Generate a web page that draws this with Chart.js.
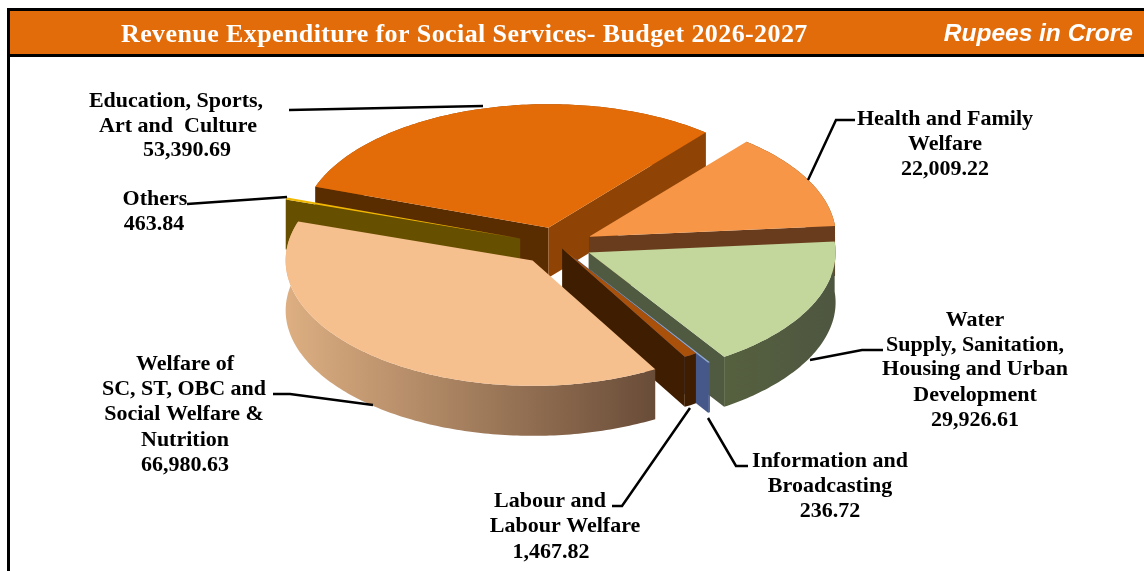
<!DOCTYPE html>
<html>
<head>
<meta charset="utf-8">
<style>
  html, body { margin: 0; padding: 0; background: #fff; overflow: hidden; }
  canvas { display: block; }
</style>
<script src="https://cdn.jsdelivr.net/npm/chart.js@4"></script>
</head>
<body>
<canvas id="pie3d" width="1144" height="571"></canvas>
<script>
const titleText = 'Revenue Expenditure for Social Services- Budget 2026-2027';
const unitText = 'Rupees in Crore';

// clockwise from the start angle
const categories = [
    'Education, Sports, Art and Culture',
    'Health and Family Welfare',
    'Water Supply, Sanitation, Housing and Urban Development',
    'Information and Broadcasting',
    'Labour and Labour Welfare',
    'Welfare of SC, ST, OBC and Social Welfare & Nutrition',
    'Others'
];
const values = [53390.69, 22009.22, 29926.61, 236.72, 1467.82, 66980.63, 463.84];

const topColors = ['#E36C09', '#F79646', '#C3D69B', '#8FA8DA', '#A9510A', '#F6BF8E', '#F0B800'];
const startWallColors = ['#5A2D00', '#6A3C1E', '#4F5A40', '#46588A', '#3F1D00', '#8A6A4A', '#665000'];
const endWallColors = ['#8F4406', '#6A3C1E', '#4F5A40', '#46588A', '#3F1D00', '#8A6A4A', '#665000'];
const rimLeftColors = ['#8F4406', '#6A3C1E', '#56613F', '#46588A', '#3F1D00', '#DDAF82', '#665000'];
const rimRightColors = ['#8F4406', '#6A3C1E', '#4E5640', '#46588A', '#3F1D00', '#694C38', '#665000'];

// how far each slice is pulled out, px
const explode = [36, 35, 34, 30, 8, 40, 40];

const SQUASH = 0.5;
const DEPTH = 50;
const NEAR_DROP = 1.5; // near edge of the pie sits a little lower, like the perspective in a 3D chart

// label text, one entry per line: [text, centre x, centre y]
const labelLines = [
    ['Education, Sports,', 176, 100], ['Art and  Culture', 178, 125], ['53,390.69', 187, 149],
    ['Others', 155, 198], ['463.84', 154, 223],
    ['Health and Family', 945, 118], ['Welfare', 945, 143], ['22,009.22', 945, 168],
    ['Water', 975, 319], ['Supply, Sanitation,', 975, 344], ['Housing and Urban', 975, 368],
    ['Development', 975, 394], ['29,926.61', 975, 419],
    ['Information and', 830, 460], ['Broadcasting', 830, 485], ['236.72', 830, 510],
    ['Labour and', 550, 500], ['Labour Welfare', 565, 525], ['1,467.82', 551, 551],
    ['Welfare of', 185, 363], ['SC, ST, OBC and', 184, 388], ['Social Welfare &', 184, 413],
    ['Nutrition', 185, 439], ['66,980.63', 185, 464]
];

const leaderLines = [
    [[289, 110], [483, 106]],
    [[855, 120], [836, 120], [808, 180]],
    [[883, 350], [862, 350], [810, 360]],
    [[748, 466], [736, 466], [708, 418]],
    [[612, 506], [622, 506], [690, 408]],
    [[273, 394], [290, 394], [373, 405]],
    [[187, 204], [287, 197]]
];

function slicePoint(el, angle, radius) {
    const mid = (el.startAngle + el.endAngle) / 2;
    const d = el.options.offset / 4;
    const along = d * Math.sin(mid) + radius * Math.sin(angle);
    const near = Math.max(along, 0) / el.outerRadius;
    return {
        x: el.x + d * Math.cos(mid) + radius * Math.cos(angle),
        y: el.y + SQUASH * along + NEAR_DROP * near * near
    };
}

function arcPoints(el) {
    const pts = [];
    const steps = Math.max(2, Math.ceil((el.endAngle - el.startAngle) * 60));
    for (let i = 0; i <= steps; i++) {
        const a = el.startAngle + (el.endAngle - el.startAngle) * i / steps;
        pts.push(slicePoint(el, a, el.outerRadius));
    }
    return pts;
}

function fillPoly(ctx, pts, fill) {
    ctx.beginPath();
    pts.forEach((p, i) => i ? ctx.lineTo(p.x, p.y) : ctx.moveTo(p.x, p.y));
    ctx.closePath();
    ctx.fillStyle = fill;
    ctx.fill();
}

function drawWall(ctx, el, angle, color) {
    const apex = slicePoint(el, 0, 0);
    const rim = slicePoint(el, angle, el.outerRadius);
    fillPoly(ctx, [apex, rim, { x: rim.x, y: rim.y + DEPTH }, { x: apex.x, y: apex.y + DEPTH }], color);
}

function drawSlice(ctx, el, i) {
    const pts = arcPoints(el);
    const apex = slicePoint(el, 0, 0);

    // outer rim
    const xs = pts.map(p => p.x);
    const grad = ctx.createLinearGradient(Math.min(...xs), 0, Math.max(...xs), 0);
    grad.addColorStop(0, rimLeftColors[i]);
    grad.addColorStop(1, rimRightColors[i]);
    const lower = pts.slice().reverse().map(p => ({ x: p.x, y: p.y + DEPTH }));
    fillPoly(ctx, pts.concat(lower), grad);

    // cut faces, only the ones turned to the viewer
    if (Math.cos(el.startAngle) < 0) drawWall(ctx, el, el.startAngle, startWallColors[i]);
    if (Math.cos(el.endAngle) > 0) drawWall(ctx, el, el.endAngle, endWallColors[i]);

    // top face
    fillPoly(ctx, [apex].concat(pts), el.options.backgroundColor);
}

const pie3dPlugin = {
    id: 'pie3d',
    beforeDatasetDraw(chart) {
        const ctx = chart.ctx;
        const arcs = chart.getDatasetMeta(0).data;
        ctx.save();
        // back to front
        [0, 1, 6, 2, 3, 4, 5].forEach(i => drawSlice(ctx, arcs[i], i));
        ctx.restore();
        return false;
    },
    afterDraw(chart) {
        const ctx = chart.ctx;
        ctx.save();

        // header band and frame
        ctx.fillStyle = '#E36C0A';
        ctx.fillRect(10, 11, 1134, 43);
        ctx.fillStyle = '#000';
        ctx.fillRect(7, 8, 1137, 3);
        ctx.fillRect(7, 54, 1137, 3);
        ctx.fillRect(7, 8, 3, 563);

        ctx.fillStyle = '#fff';
        ctx.textBaseline = 'alphabetic';
        ctx.textAlign = 'left';
        ctx.font = 'bold 26px "Liberation Serif"';
        ctx.letterSpacing = '0.4px';
        ctx.fillText(titleText, 121, 42);
        ctx.letterSpacing = '0px';
        ctx.font = 'italic bold 24.5px "Liberation Sans"';
        ctx.textAlign = 'right';
        ctx.fillText(unitText, 1133, 41);

        // leaders
        ctx.strokeStyle = '#000';
        ctx.lineWidth = 2.5;
        leaderLines.forEach(line => {
            ctx.beginPath();
            line.forEach((p, i) => i ? ctx.lineTo(p[0], p[1]) : ctx.moveTo(p[0], p[1]));
            ctx.stroke();
        });

        // labels
        ctx.fillStyle = '#000';
        ctx.font = 'bold 22px "Liberation Serif"';
        ctx.textAlign = 'center';
        ctx.textBaseline = 'middle';
        labelLines.forEach(l => ctx.fillText(l[0], l[1], l[2] + 1));
        ctx.restore();
    }
};

new Chart(document.getElementById('pie3d'), {
    type: 'pie',
    data: {
        labels: categories,
        datasets: [{
            data: values,
            backgroundColor: topColors,
            borderWidth: 0,
            offset: explode.map(d => d * 4)
        }]
    },
    options: {
        responsive: false,
        animation: false,
        radius: 247,
        rotation: 289.4,
        layout: { padding: { right: 28, bottom: 81 } },
        plugins: { legend: { display: false }, tooltip: { enabled: false } }
    },
    plugins: [pie3dPlugin]
});
</script>
</body>
</html>
